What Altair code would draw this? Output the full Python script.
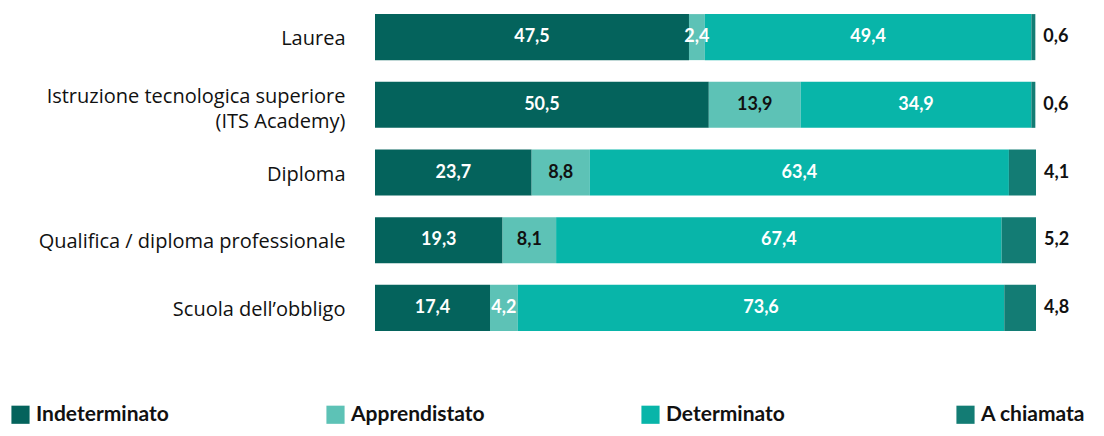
import altair as alt
import pandas as pd

categories = ["Laurea", "Istruzione tecnologica superiore\n(ITS Academy)", "Diploma",
              "Qualifica / diploma professionale", "Scuola dell’obbligo"]
series = ["Indeterminato", "Apprendistato", "Determinato", "A chiamata"]
colors = ["#04635C", "#5DC2B6", "#08B5A9", "#137C74"]

indeterminato = [47.5, 50.5, 23.7, 19.3, 17.4]
apprendistato = [2.4, 13.9, 8.8, 8.1, 4.2]
determinato = [49.4, 34.9, 63.4, 67.4, 73.6]
a_chiamata = [0.6, 0.6, 4.1, 5.2, 4.8]

values = [indeterminato, apprendistato, determinato, a_chiamata]
rows = []
for si, (s, vals) in enumerate(zip(series, values)):
    for c, v in zip(categories, vals):
        rows.append({"cat": c, "series": s, "ord": si, "value": v})
df = pd.DataFrame(rows)

base = alt.Chart(df).transform_stack(
    stack="value", as_=["x0", "x1"], groupby=["cat"], sort=[alt.SortField("ord")]
).transform_calculate(
    mid="(datum.x0 + datum.x1) / 2",
    lab="replace(format(datum.value, '.1f'), '.', ',')"
)

yenc = alt.Y("cat:N", sort=categories, title=None,
             scale=alt.Scale(paddingInner=0.32, paddingOuter=0.09),
             axis=alt.Axis(domain=False, ticks=False, labelPadding=30,
                           labelFont="Open Sans", labelFontSize=20, labelColor="#111",
                           labelLineHeight=25,
                           labelOffset={"condition": {"test": "indexof(datum.label, 'ITS') >= 0",
                                                      "value": -8}, "value": 2},
                           labelLimit=400, labelExpr="split(datum.label, '\\n')"))
xscale = alt.Scale(domain=[0, 100], nice=False, zero=True)

bars = base.mark_bar().encode(
    y=yenc,
    x=alt.X("x0:Q", scale=xscale, axis=None),
    x2="x1:Q",
    color=alt.Color("series:N", sort=series,
                    scale=alt.Scale(domain=series, range=colors),
                    legend=alt.Legend(title=None, orient="none", legendX=-365, legendY=396,
                                      direction="horizontal", columns=4, gridAlign="all",
                                      columnPadding=155, symbolType="square", symbolSize=330,
                                      symbolStrokeWidth=0, symbolOpacity=1,
                                      labelFont="Lato", labelFontSize=21, labelFontWeight="bold",
                                      labelColor="#111", labelOffset=5, labelLimit=300)),
)

inside = base.transform_filter("datum.series != 'A chiamata'").mark_text(
    font="Lato", fontSize=18, fontWeight="bold", align="center", baseline="middle"
).encode(
    y=alt.Y("cat:N", sort=categories),
    x=alt.X("mid:Q", scale=xscale),
    text="lab:N",
    color=alt.condition("datum.series == 'Apprendistato' && datum.value > 5",
                        alt.value("#111111"), alt.value("#ffffff")),
)

outside = base.transform_filter("datum.series == 'A chiamata'").mark_text(
    font="Lato", fontSize=18, fontWeight="bold", align="left", baseline="middle", dx=8,
    color="#111111"
).encode(
    y=alt.Y("cat:N", sort=categories),
    x=alt.X("x1:Q", scale=xscale),
    text="lab:N",
)

chart = alt.layer(bars, inside, outside).properties(
    width=661, height=329,
    autosize=alt.AutoSizeParams(type="none"),
    padding={"left": 367, "top": 0, "right": 60, "bottom": 91},
).configure_view(stroke=None)

chart.save("out.html", embed_options={"renderer": "svg", "actions": False})
